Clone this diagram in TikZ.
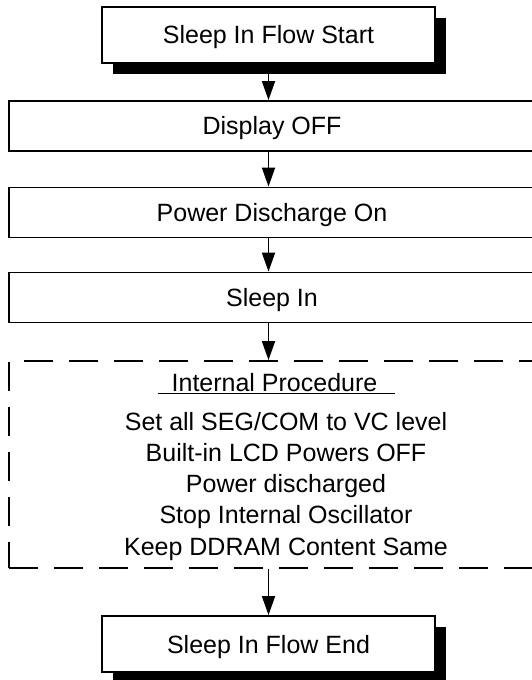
\documentclass[tikz,border=0pt]{standalone}
\usepackage{fontspec}
\setmainfont{Liberation Sans}
\usetikzlibrary{arrows.meta,shadows}
\begin{document}
\begin{tikzpicture}[x=1pt,y=1pt,
  box/.style={draw=drawColor,line width=1.8pt,rectangle,inner sep=0pt,fill=white,
    font=\fontsize{25}{31.25}\selectfont,text height=18pt,text depth=0pt},
  endbox/.style={box,minimum width=333pt,minimum height=56pt,
    drop shadow={shadow xshift=11pt,shadow yshift=-11pt,fill=drawColor,opacity=1}},
  widebox/.style={box,minimum width=526pt,minimum height=50pt},
  procbox/.style={draw=drawColor,line width=1.8pt,dash pattern=on 29pt off 16pt,
    minimum width=526pt,minimum height=207pt,inner sep=0pt},
  proctext/.style={inner sep=0pt,outer sep=0pt,font=\fontsize{25}{31.25}\selectfont},
  arr/.style={draw=drawColor,line width=1.8pt,-{Triangle[length=19pt,width=13pt]}}]
\definecolor{drawColor}{RGB}{0,0,0}
\definecolor{fillColor}{RGB}{255,255,255}
\path[use as bounding box,fill=fillColor] (0,0) rectangle (531,680);

\node[endbox] (start) at (268.5,645) {Sleep In Flow Start};

\node[widebox] (disp) at (272,554) {Display OFF};

\node[widebox] (pow) at (272,467.5) {Power Discharge On};

\node[widebox] (sleep) at (272,382.5) {Sleep In};

\node[procbox] (proc) at (272,215.5) {};

\node[proctext,anchor=base] (title) at (276.5,288) {\underline{\hspace*{14pt}Internal Procedure\hspace*{18pt}}};

\node[proctext,align=center,anchor=north] (steps) at (286,268) {Set all SEG/COM to VC level\\
Built-in LCD Powers OFF\\
Power discharged\\
Stop Internal Oscillator\\
Keep DDRAM Content Same};

\node[endbox] (fin) at (268.5,36) {Sleep In Flow End};

\path[arr] (start.south) -- (start.south |- disp.north);

\path[arr] (start.south |- disp.south) -- (start.south |- pow.north);

\path[arr] (start.south |- pow.south) -- (start.south |- sleep.north);

\path[arr] (start.south |- sleep.south) -- (start.south |- proc.north);

\path[arr] (fin.north |- proc.south) -- (fin.north);
\end{tikzpicture}
\end{document}
